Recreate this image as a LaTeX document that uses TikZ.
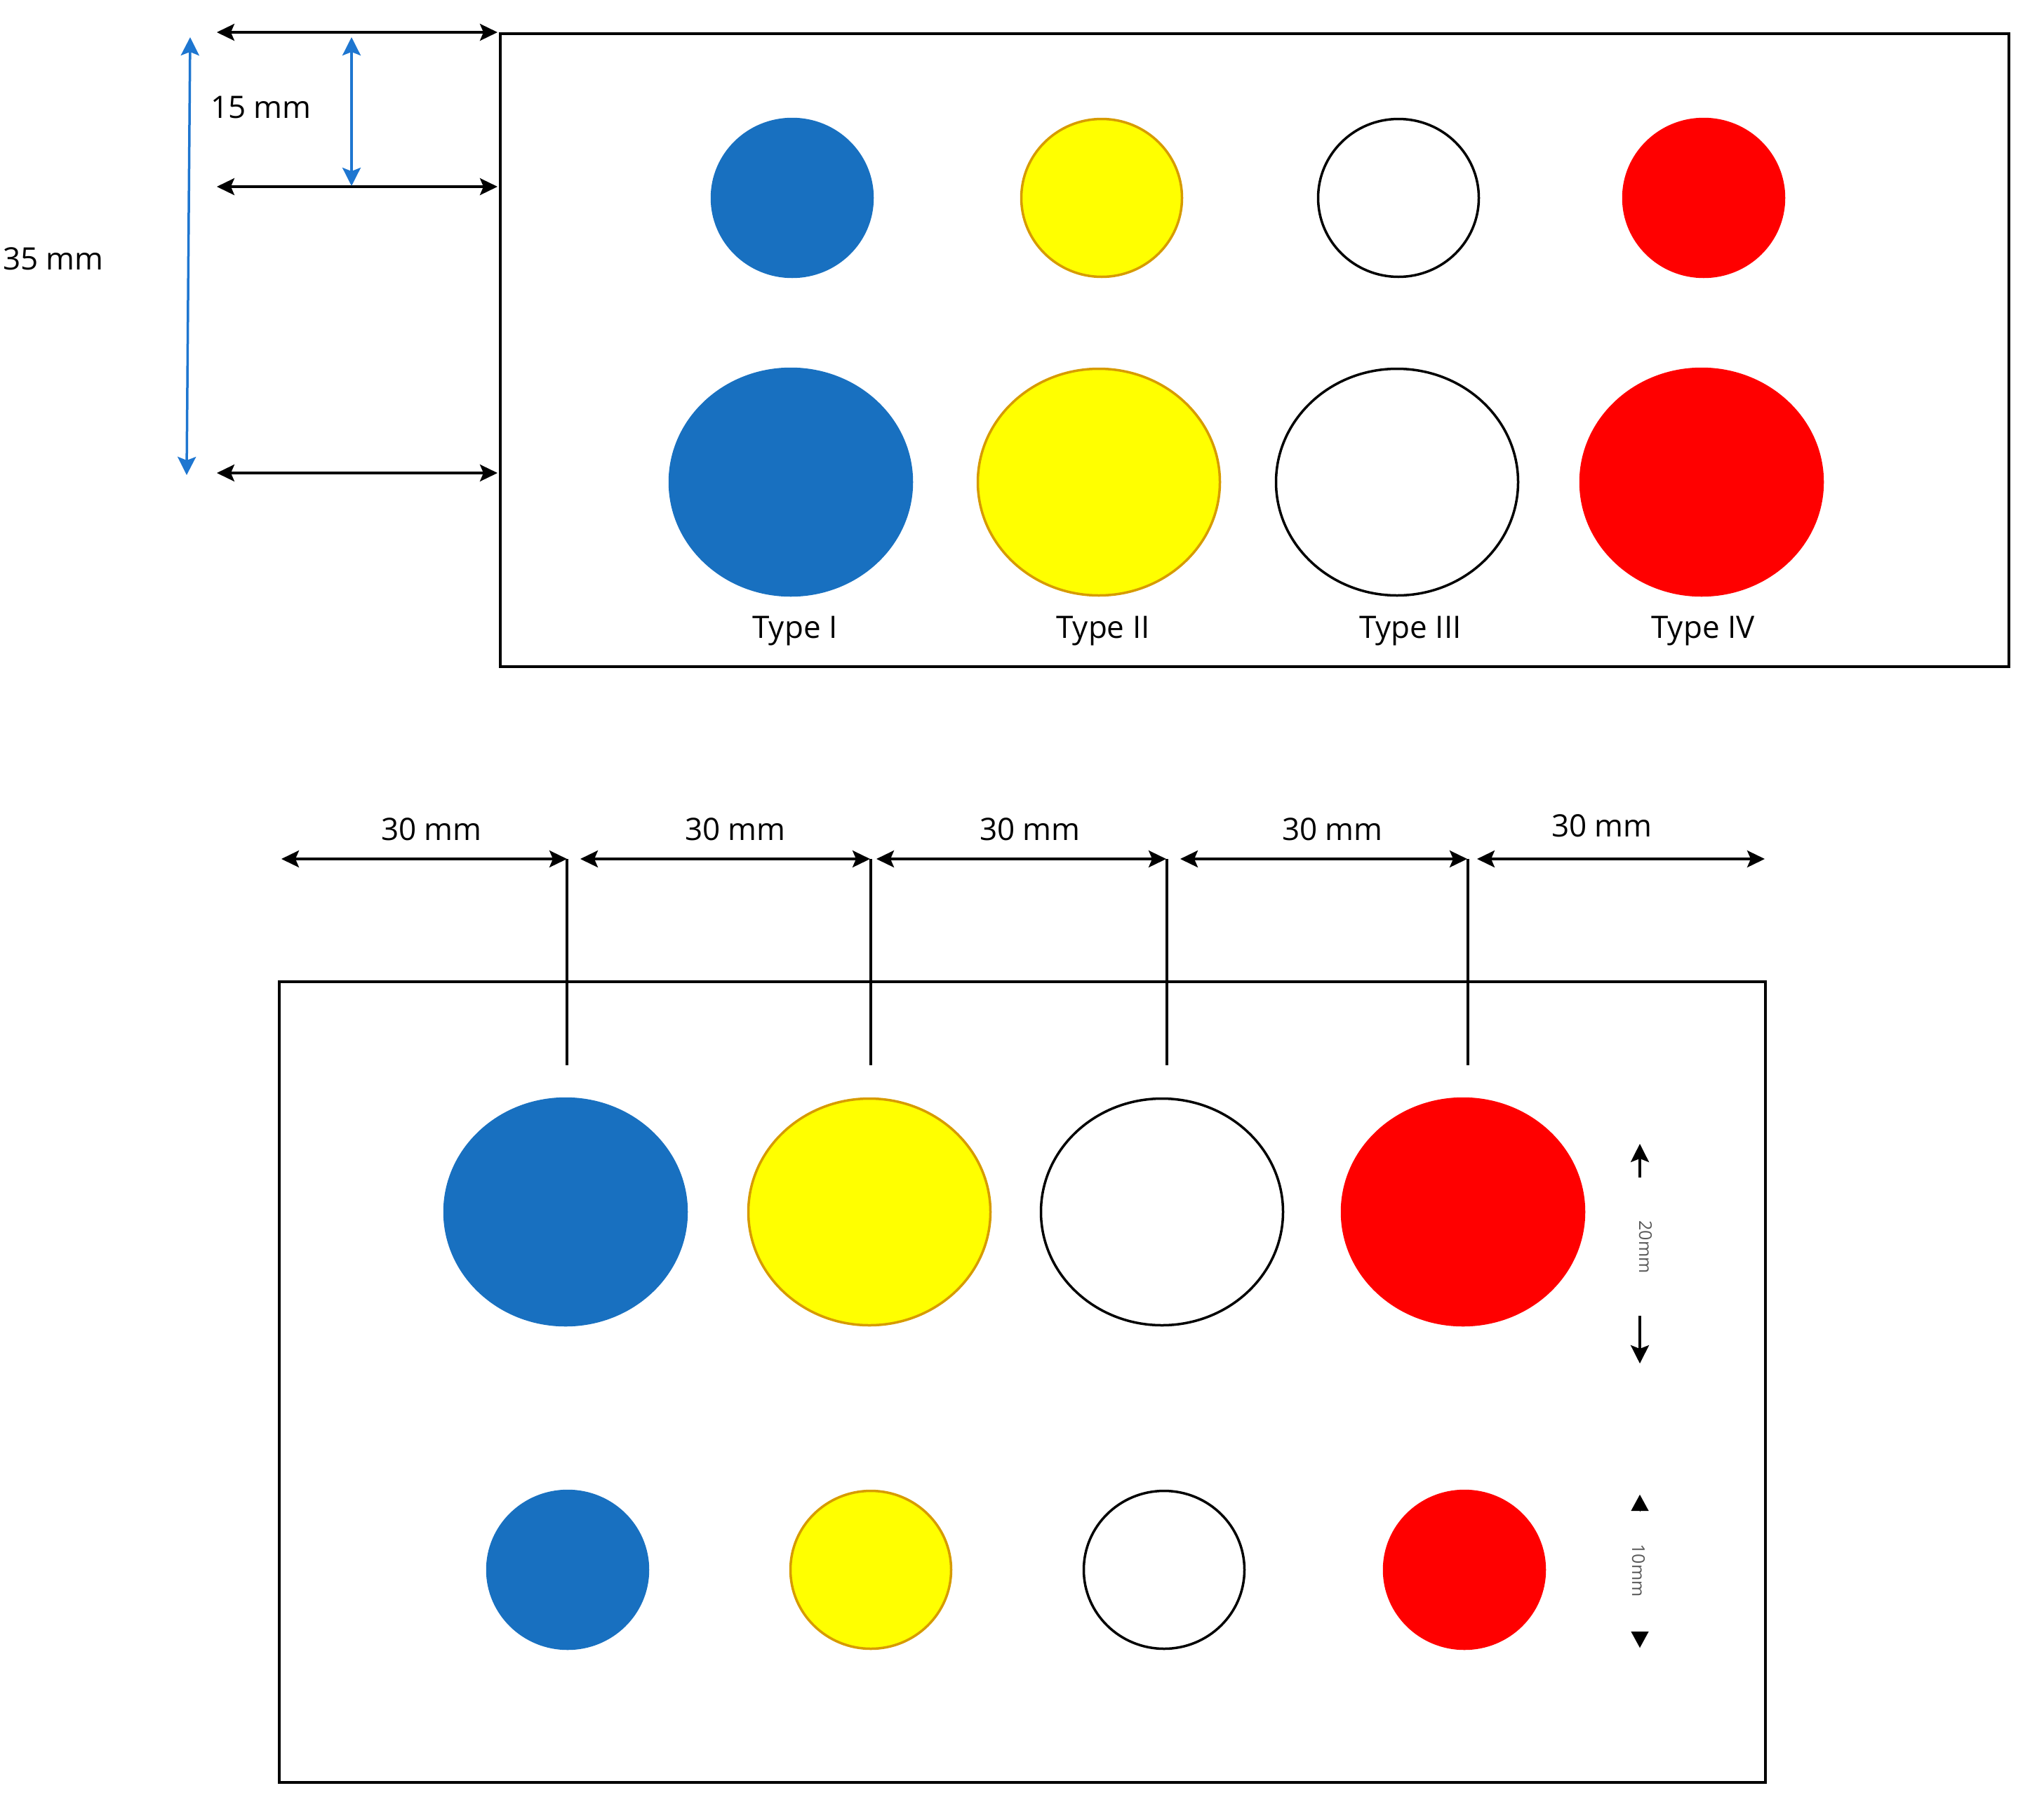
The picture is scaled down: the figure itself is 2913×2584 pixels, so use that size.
\documentclass[tikz,border=0pt]{standalone}
\usepackage{fontspec}
\setmainfont{Open Sans}
\usetikzlibrary{shapes.geometric,arrows.meta}
\definecolor{cblue}{RGB}{24,112,192}
\definecolor{ablue}{RGB}{30,118,208}
\definecolor{cyellow}{RGB}{255,255,0}
\definecolor{cyedge}{RGB}{215,155,0}
\definecolor{cred}{RGB}{255,0,0}
\begin{document}
\begin{tikzpicture}[x=1pt,y=-1pt,
  smalldot/.style={ellipse, inner sep=0pt, line width=3.5pt, minimum width=229pt, minimum height=225pt},
  largedot/.style={ellipse, inner sep=0pt, line width=3.5pt, minimum width=345pt, minimum height=323pt},
  bluef/.style={fill=cblue, draw=cblue},
  yelf/.style={fill=cyellow, draw=cyedge},
  whitef/.style={fill=white, draw=black},
  redf/.style={fill=cred, draw=cred},
  lbl/.style={font=\fontsize{44}{53}\selectfont, inner sep=0pt},
  tiny/.style={font=\fontsize{25}{30}\selectfont, inner sep=0pt, text=black!65, rotate=-90},
  frame/.style={draw=black, line width=4pt},
  dimline/.style={line width=3.5pt, {Stealth[length=25pt,width=24pt,inset=5pt]}-{Stealth[length=25pt,width=24pt,inset=5pt]}},
  bdim/.style={draw=ablue, line width=3.5pt, {Stealth[length=26pt,width=26pt,inset=5pt]}-{Stealth[length=26pt,width=26pt,inset=5pt]}},
  oneway/.style={line width=3.5pt, -{Stealth[length=26pt,width=26pt,inset=5pt]}},
  tri/.style={line width=0.1pt, -{Triangle[length=23pt,width=25pt]}},
  ext/.style={line width=3.5pt}]
\useasboundingbox (0,0) rectangle (2913,2584);

% ---------- top panel ----------
\node[frame, rectangle, inner sep=0pt, minimum width=2150pt, minimum height=902pt, anchor=north west] (topbox) at (711,46) {};

\node[smalldot, bluef]  (t1s) at (1129,282) {};
\node[smalldot, yelf]   (t2s) at (1570,282) {};
\node[smalldot, whitef] (t3s) at (1993,282) {};
\node[smalldot, redf]   (t4s) at (2428,282) {};

\node[largedot, bluef]  (t1l) at (1127,687) {};
\node[largedot, yelf]   (t2l) at (1566,687) {};
\node[largedot, whitef] (t3l) at (1991,687) {};
\node[largedot, redf]   (t4l) at (2425,687) {};

\node[lbl] (ty1) at (1133,899) {Type I};
\node[lbl] (ty2) at (1572,899) {Type II};
\node[lbl] (ty3) at (2010,899) {Type III};
\node[lbl] (ty4) at (2427,899) {Type IV};

\coordinate (h1a) at (309,46);  \coordinate (h1b) at (709,46);
\coordinate (h2a) at (309,266); \coordinate (h2b) at (709,266);
\coordinate (h3a) at (309,674); \coordinate (h3b) at (709,674);
\draw[dimline] (h1a) -- (h1b);
\draw[dimline] (h2a) -- (h2b);
\draw[dimline] (h3a) -- (h3b);

\coordinate (b1a) at (271,53);  \coordinate (b1b) at (266,677);
\coordinate (b2a) at (501,53);  \coordinate (b2b) at (501,265);
\draw[bdim] (b1a) -- (b1b);
\draw[bdim] (b2a) -- (b2b);

\node[lbl] (l15) at (372,153) {15 mm};
\node[lbl] (l35) at (76,369) {35 mm};

% ---------- bottom panel ----------
\node[frame, rectangle, inner sep=0pt, minimum width=2118pt, minimum height=1141pt, anchor=north west] (botbox) at (396,1397) {};

\node[largedot, bluef]  (b1L) at (806,1727) {};
\node[largedot, yelf]   (b2L) at (1239,1727) {};
\node[largedot, whitef] (b3L) at (1656,1727) {};
\node[largedot, redf]   (b4L) at (2085,1727) {};

\node[smalldot, bluef]  (b1S) at (809,2237) {};
\node[smalldot, yelf]   (b2S) at (1241,2237) {};
\node[smalldot, whitef] (b3S) at (1659,2237) {};
\node[smalldot, redf]   (b4S) at (2087,2237) {};

\coordinate (d0a) at (401,1224);  \coordinate (d0b) at (808,1224);
\coordinate (d1a) at (827,1224);  \coordinate (d1b) at (1240,1224);
\coordinate (d2a) at (1249,1224); \coordinate (d2b) at (1662,1224);
\coordinate (d3a) at (1682,1224); \coordinate (d3b) at (2091,1224);
\coordinate (d4a) at (2105,1224); \coordinate (d4b) at (2515,1224);
\draw[dimline] (d0a) -- (d0b);
\draw[dimline] (d1a) -- (d1b);
\draw[dimline] (d2a) -- (d2b);
\draw[dimline] (d3a) -- (d3b);
\draw[dimline] (d4a) -- (d4b);

\coordinate (v1) at (808,1518);
\coordinate (v2) at (1241,1518);
\coordinate (v3) at (1663,1518);
\coordinate (v4) at (2092,1518);
\draw[ext] (d0b) -- (v1);
\draw[ext] (1241,1224) -- (v2);
\draw[ext] (1663,1224) -- (v3);
\draw[ext] (2092,1224) -- (v4);

\node[lbl] (m1) at (615,1182) {30 mm};
\node[lbl] (m2) at (1048,1182) {30 mm};
\node[lbl] (m3) at (1468,1182) {30 mm};
\node[lbl] (m4) at (1899,1182) {30 mm};
\node[lbl] (m5) at (2283,1177) {30 mm};

% right-side small dimensions
\coordinate (u1a) at (2337,1678); \coordinate (u1b) at (2337,1630);
\coordinate (u2a) at (2337,1875); \coordinate (u2b) at (2337,1943);
\draw[oneway] (u1a) -- (u1b);
\draw[oneway] (u2a) -- (u2b);
\node[tiny] (t20) at (2345,1777) {20mm};

\coordinate (w1a) at (2337,2153); \coordinate (w1b) at (2337,2130);
\coordinate (w2a) at (2337,2325); \coordinate (w2b) at (2337,2348);
\draw[tri] (w1a) -- (w1b);
\draw[tri] (w2a) -- (w2b);
\node[tiny] (t10) at (2335,2238) {10mm};
\end{tikzpicture}
\end{document}
